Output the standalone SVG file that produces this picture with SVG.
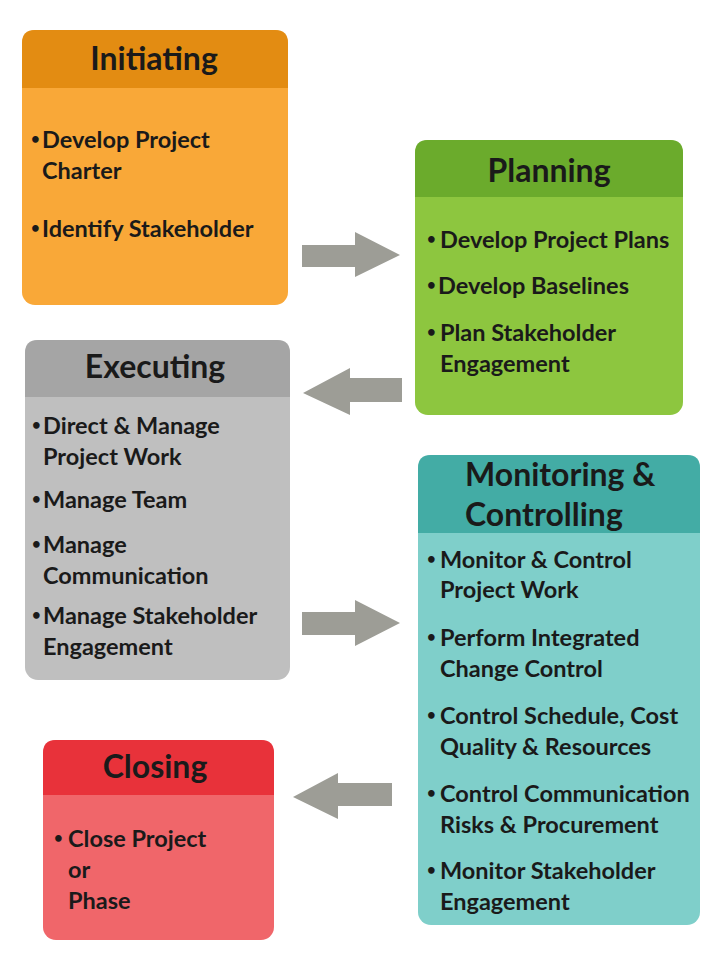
<svg xmlns="http://www.w3.org/2000/svg" width="720" height="966" viewBox="0 0 720 966">
<style>
.t{font-family:Lato,"Liberation Sans",sans-serif;font-weight:bold;fill:#1a1a1a}
.h{font-size:32px;text-anchor:middle}
.hl{font-size:32px}
.i{font-size:23.5px}
.b{font-size:15px}
.arr{fill:#9d9d96}
</style>
<rect width="720" height="966" fill="#ffffff"/>
<g id="initiating">
<rect x="22" y="30" width="266" height="275" rx="13" fill="#f9a838"/>
<path d="M22 88 V43 Q22 30 35 30 H275 Q288 30 288 43 V88 Z" fill="#e38c12"/>
<text class="t h" x="154" y="70">Initiating</text>
<text class="t b" x="31" y="144">•</text>
<text class="t i" x="42" y="148">Develop Project</text>
<text class="t i" x="42" y="179">Charter</text>
<text class="t b" x="31" y="233">•</text>
<text class="t i" x="42" y="237">Identify Stakeholder</text>
</g>
<g id="planning">
<rect x="415" y="140" width="268" height="275" rx="13" fill="#8dc63f"/>
<path d="M415 197 V153 Q415 140 428 140 H670 Q683 140 683 153 V197 Z" fill="#6bab2c"/>
<text class="t h" x="549" y="182">Planning</text>
<text class="t b" x="427" y="244">•</text>
<text class="t i" x="440" y="248">Develop Project Plans</text>
<text class="t b" x="427" y="290">•</text>
<text class="t i" x="438" y="294">Develop Baselines</text>
<text class="t b" x="427" y="337">•</text>
<text class="t i" x="440" y="341">Plan Stakeholder</text>
<text class="t i" x="440" y="372">Engagement</text>
</g>
<g id="executing">
<rect x="25" y="340" width="265" height="340" rx="13" fill="#bfbfbf"/>
<path d="M25 397 V353 Q25 340 38 340 H277 Q290 340 290 353 V397 Z" fill="#a5a5a5"/>
<text class="t h" x="155" y="378">Executing</text>
<text class="t b" x="32" y="430">•</text>
<text class="t i" x="43" y="434">Direct &amp; Manage</text>
<text class="t i" x="43" y="465">Project Work</text>
<text class="t b" x="32" y="504">•</text>
<text class="t i" x="43" y="508">Manage Team</text>
<text class="t b" x="32" y="549">•</text>
<text class="t i" x="43" y="553">Manage</text>
<text class="t i" x="43" y="584">Communication</text>
<text class="t b" x="32" y="620">•</text>
<text class="t i" x="43" y="624">Manage Stakeholder</text>
<text class="t i" x="43" y="655">Engagement</text>
</g>
<g id="monitoring">
<rect x="418" y="455" width="282" height="470" rx="13" fill="#7fcfca"/>
<path d="M418 533 V468 Q418 455 431 455 H687 Q700 455 700 468 V533 Z" fill="#43aca5"/>
<text class="t hl" x="465" y="486">Monitoring &amp;</text>
<text class="t hl" x="465" y="526">Controlling</text>
<text class="t b" x="427" y="564">•</text>
<text class="t i" x="440" y="568">Monitor &amp; Control</text>
<text class="t i" x="440" y="598">Project Work</text>
<text class="t b" x="427" y="642">•</text>
<text class="t i" x="440" y="646">Perform Integrated</text>
<text class="t i" x="440" y="677">Change Control</text>
<text class="t b" x="427" y="720">•</text>
<text class="t i" x="440" y="724">Control Schedule, Cost</text>
<text class="t i" x="440" y="755">Quality &amp; Resources</text>
<text class="t b" x="427" y="798">•</text>
<text class="t i" x="440" y="802">Control Communication</text>
<text class="t i" x="440" y="833">Risks &amp; Procurement</text>
<text class="t b" x="427" y="875">•</text>
<text class="t i" x="440" y="879">Monitor Stakeholder</text>
<text class="t i" x="440" y="910">Engagement</text>
</g>
<g id="closing">
<rect x="43" y="740" width="231" height="200" rx="13" fill="#f0666a"/>
<path d="M43 795 V753 Q43 740 56 740 H261 Q274 740 274 753 V795 Z" fill="#e8323a"/>
<text class="t h" x="155" y="778">Closing</text>
<text class="t b" x="54" y="843">•</text>
<text class="t i" x="68" y="847">Close Project</text>
<text class="t i" x="68" y="878">or</text>
<text class="t i" x="68" y="909">Phase</text>
</g>
<g id="connectors">
<path class="arr" d="M302 245 H355 V232 L400 255 L355 277 V267 H302 Z"/>
<path class="arr" d="M402 378 H350 V368 L303 393 L350 415 V402 H402 Z"/>
<path class="arr" d="M302 612 H355 V600 L400 623 L355 646 V635 H302 Z"/>
<path class="arr" d="M392 783 H338 V773 L293 797 L338 819 V806 H392 Z"/>
</g>
</svg>
